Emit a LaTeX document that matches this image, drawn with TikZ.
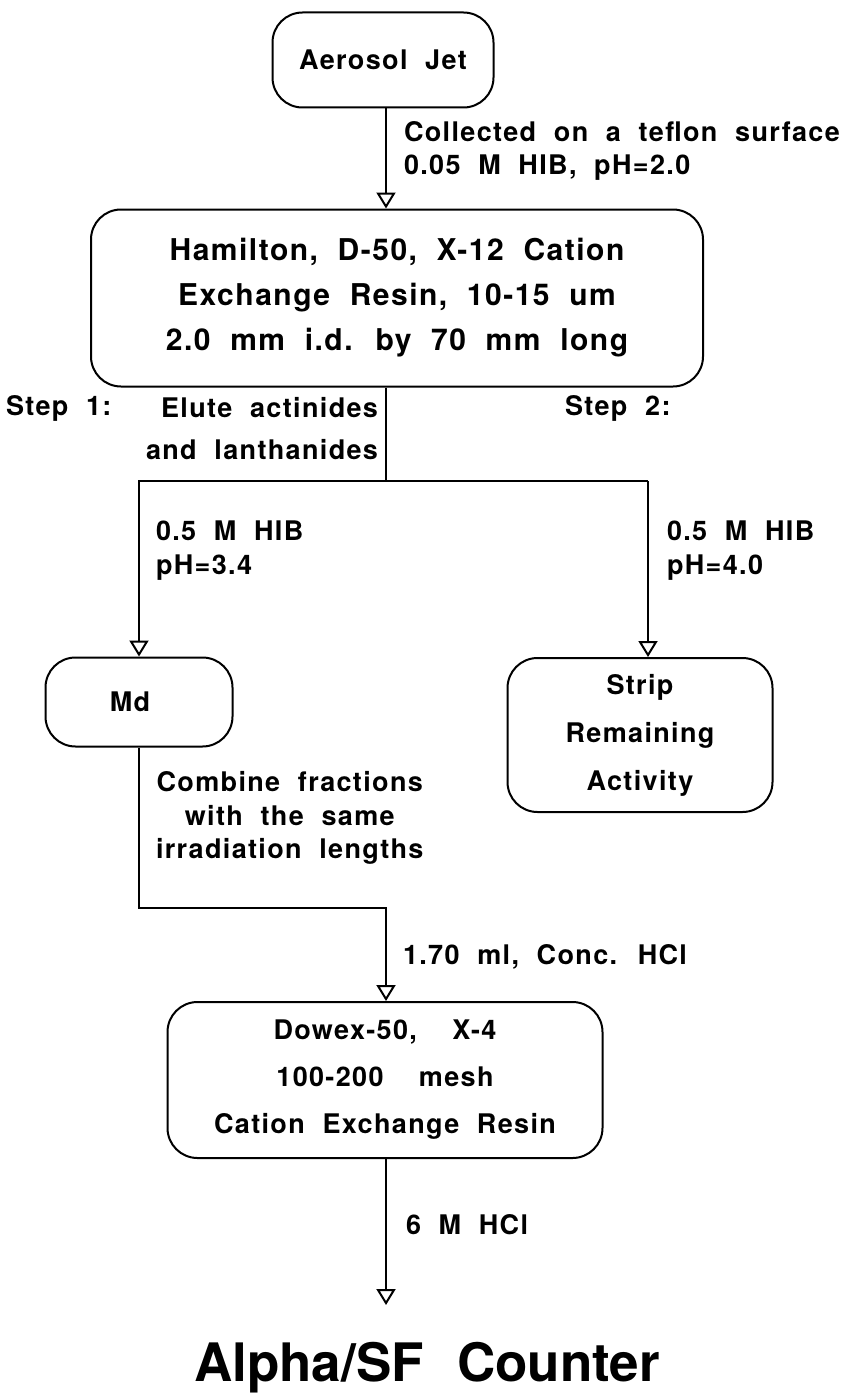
\documentclass[tikz,border=0pt]{standalone}
\usepackage{fontspec}
\setmainfont{TeX Gyre Heros}[LetterSpace=5, WordSpace=2]
\newfontfamily\bigfont{TeX Gyre Heros}
\usetikzlibrary{positioning, arrows.meta}

\begin{document}
\begin{tikzpicture}[x=1pt, y=-1pt, line width=2pt,
        font=\fontsize{27}{34}\selectfont\bfseries,
        box/.style={draw, rounded corners=30pt, align=center, inner sep=0pt},
        lbl/.style={align=left, anchor=west, inner sep=0pt},
        flow/.style={-{Triangle[open, width=19pt, length=16pt]}}]
        \useasboundingbox (0,0) rectangle (855,1394);
        % boxes
        \node[box, minimum width=221pt, minimum height=95pt] (jet) at (383,60) {Aerosol Jet};
        \node[box, minimum width=612pt, minimum height=177pt, font=\fontsize{30}{45}\selectfont\bfseries] (ham) at (397,298)
            {Hamilton, D-50, X-12 Cation\\ Exchange Resin, 10-15 um\\ 2.0 mm i.d. by 70 mm long};
        \node[box, minimum width=187pt, minimum height=89pt] (md) at (139,702) {Md\hspace{18pt}};
        \node[box, minimum width=265pt, minimum height=154pt, font=\fontsize{27}{48}\selectfont\bfseries] (strip) at (640,735)
            {Strip\\ Remaining\\ Activity};
        \node[box, minimum width=435pt, minimum height=156pt, font=\fontsize{27}{47}\selectfont\bfseries] (dow) at (385,1080)
            {Dowex-50, \ X-4\\ 100-200 \ mesh\\ Cation Exchange Resin};
        \node[inner sep=0pt, font=\fontsize{53}{60}\bigfont\bfseries] (counter) at (427,1368) {Alpha/SF\hspace{0.35em} Counter};
        % junctions
        \coordinate (split) at (386,481);
        \coordinate (rbr) at (648,481);
        \coordinate (join) at (386,908);
        \coordinate (out) at (386,1305);
        % connectors
        \draw[flow] (jet.south -| split) -- (split |- ham.north);
        \draw (ham.south -| split) -- (split);
        \draw[flow] (split) -| (md.north);
        \draw (split) -- (rbr);
        \draw[flow] (rbr) -- (rbr |- strip.north);
        \draw[flow] (md.south) |- (join) -- (join |- dow.north);
        \draw[flow] (dow.south -| out) -- (out);
        % labels
        \node[lbl] (coll) at (403,132) {Collected on a teflon surface};
        \node[lbl] (hib) at (403,168) {0.05 M HIB, pH=2.0};
        \node[inner sep=0pt, anchor=west] (step1) at (5,408) {Step 1:};
        \node[inner sep=0pt, anchor=east, align=right, font=\fontsize{27}{42}\selectfont\bfseries] (elute) at (379,429)
            {Elute actinides\\ and lanthanides};
        \node[inner sep=0pt, anchor=west] (step2) at (564,408) {Step 2:};
        \node[lbl] (hibl) at (155,551) {0.5 M HIB\\ pH=3.4};
        \node[lbl] (hibr) at (666,551) {0.5 M HIB\\ pH=4.0};
        \node[inner sep=0pt, align=center, anchor=west, font=\fontsize{27}{33.5}\selectfont\bfseries] (comb) at (155,818)
            {Combine fractions\\ with the same\\ irradiation lengths};
        \node[lbl] (hcl) at (402,957) {1.70 ml, Conc. HCl};
        \node[lbl] (hcl6) at (405,1225) {6 M HCl};
\end{tikzpicture}
\end{document}
